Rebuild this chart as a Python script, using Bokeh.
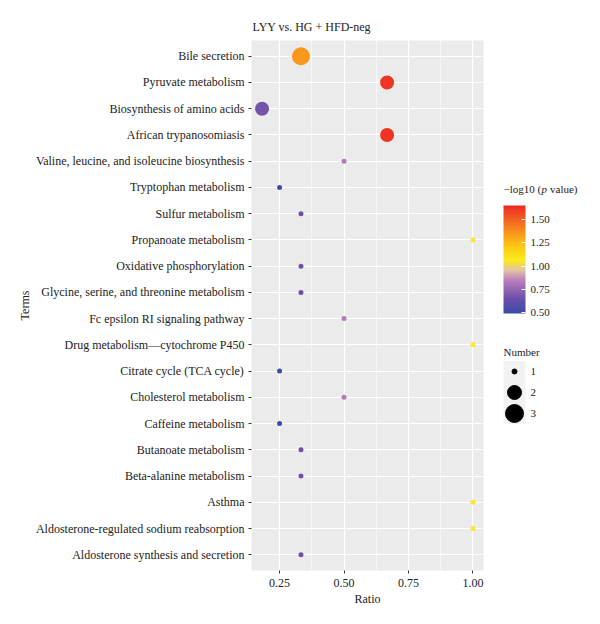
import numpy as np
from bokeh.plotting import figure
from bokeh.models import (ColumnDataSource, FactorRange, Range1d, LinearColorMapper,
                          ColorBar, FixedTicker)
from bokeh.layouts import row
from bokeh.embed import file_html
from bokeh.resources import INLINE
from bokeh.core.properties import value
from bokeh.transform import transform

# ---------------- data (top to bottom as in the chart) ----------------
terms = [
    "Bile secretion",
    "Pyruvate metabolism",
    "Biosynthesis of amino acids",
    "African trypanosomiasis",
    "Valine, leucine, and isoleucine biosynthesis",
    "Tryptophan metabolism",
    "Sulfur metabolism",
    "Propanoate metabolism",
    "Oxidative phosphorylation",
    "Glycine, serine, and threonine metabolism",
    "Fc epsilon RI signaling pathway",
    "Drug metabolism\u2014cytochrome P450",
    "Citrate cycle (TCA cycle)",
    "Cholesterol metabolism",
    "Caffeine metabolism",
    "Butanoate metabolism",
    "Beta-alanine metabolism",
    "Asthma",
    "Aldosterone-regulated sodium reabsorption",
    "Aldosterone synthesis and secretion",
]
ratio = [0.333, 0.667, 0.182, 0.667, 0.5, 0.25, 0.333, 1.0, 0.333, 0.333,
         0.5, 1.0, 0.25, 0.5, 0.25, 0.333, 0.333, 1.0, 1.0, 0.333]
number = [3, 2, 2, 2, 1, 1, 1, 1, 1, 1, 1, 1, 1, 1, 1, 1, 1, 1, 1, 1]
neglogp = [1.35, 1.62, 0.67, 1.62, 0.83, 0.50, 0.65, 1.05, 0.65, 0.65,
           0.83, 1.05, 0.50, 0.83, 0.50, 0.65, 0.65, 1.05, 1.05, 0.65]

x_ticks = [0.25, 0.50, 0.75, 1.00]
x_tick_labels = ["0.25", "0.50", "0.75", "1.00"]
x_minor = [0.375, 0.625, 0.875]
cbar_ticks = [0.50, 0.75, 1.00, 1.25, 1.50]
cbar_tick_labels = ["0.50", "0.75", "1.00", "1.25", "1.50"]
cbar_low, cbar_high = 0.49, 1.65
size_levels = [1, 2, 3]

# ---------------- style ----------------
FONT = "Liberation Serif"
TXT = "#222222"
SIZE_PX = {1: 5, 2: 14, 3: 18}

anchors = [
    (0.00, "#3A4CA6"),
    (0.13, "#6A4EA8"),
    (0.30, "#B77CBE"),
    (0.40, "#E3C2A6"),
    (0.49, "#FCEB1E"),
    (0.62, "#FDC814"),
    (0.75, "#F7941D"),
    (1.00, "#EE2A24"),
]


def hex2rgb(h):
    h = h.lstrip("#")
    return [int(h[i:i + 2], 16) for i in (0, 2, 4)]


pos = np.array([a[0] for a in anchors])
cols = np.array([hex2rgb(a[1]) for a in anchors], dtype=float)
palette = []
for t in np.linspace(0, 1, 256):
    rgb = [int(round(np.interp(t, pos, cols[:, k]))) for k in range(3)]
    palette.append("#%02x%02x%02x" % tuple(rgb))

mapper = LinearColorMapper(palette=palette, low=cbar_low, high=cbar_high)

src = ColumnDataSource(dict(
    term=terms, ratio=ratio, number=number, neglogp=neglogp,
    size=[SIZE_PX[n] for n in number],
))

lo, hi = min(ratio), max(ratio)
pad = 0.05 * (hi - lo)

TOP, BOTTOM = 40, 54

p = figure(
    width=490, height=624, output_backend="svg", toolbar_location=None,
    x_range=Range1d(lo - pad, hi + pad),
    y_range=FactorRange(factors=terms[::-1], range_padding=0.1,
                        range_padding_units="absolute"),
    min_border_left=251, min_border_right=7, min_border_top=TOP, min_border_bottom=BOTTOM,
)
p.background_fill_color = "#EBEBEB"
p.border_fill_color = "white"
p.outline_line_color = None

p.scatter("ratio", "term", source=src, size="size",
          fill_color=transform("neglogp", mapper), line_color=None)

p.xgrid.ticker = FixedTicker(ticks=x_ticks, minor_ticks=x_minor)
p.xgrid.grid_line_color = "white"
p.xgrid.grid_line_width = 1.2
p.xgrid.minor_grid_line_color = "white"
p.xgrid.minor_grid_line_width = 0.6
p.ygrid.grid_line_color = "white"
p.ygrid.grid_line_width = 1.2

p.xaxis.ticker = FixedTicker(ticks=x_ticks)
p.xaxis.major_label_overrides = dict(zip(x_ticks, x_tick_labels))
p.xaxis.axis_label = "Ratio"
p.yaxis.axis_label = "Terms"
for ax in (p.xaxis, p.yaxis):
    ax.axis_line_color = None
    ax.minor_tick_line_color = None
    ax.major_tick_line_color = "#333333"
    ax.major_tick_out = 3
    ax.major_tick_in = 0
    ax.major_label_text_font = FONT
    ax.major_label_text_font_size = "12px"
    ax.major_label_text_color = TXT
    ax.axis_label_text_font = FONT
    ax.axis_label_text_font_size = "12px"
    ax.axis_label_text_font_style = "normal"
    ax.axis_label_text_color = TXT
p.xaxis.major_label_standoff = 5
p.xaxis.axis_label_standoff = 2
p.yaxis.major_label_standoff = 4
p.yaxis.axis_label_standoff = 1

p.title.text = "LYY vs. HG + HFD-neg"
p.title.text_font = FONT
p.title.text_font_size = "12px"
p.title.text_font_style = "normal"
p.title.text_color = TXT
p.title.align = "left"
p.title.offset = 1
p.title.standoff = 14

# ---------------- side legend panel (data coords = page pixels) ----------------
s = figure(width=110, height=624, output_backend="svg", toolbar_location=None,
           x_range=Range1d(490, 600), y_range=Range1d(624 - BOTTOM, TOP),
           x_axis_type=None, y_axis_type=None,
           min_border_left=0, min_border_right=0,
           min_border_top=TOP, min_border_bottom=BOTTOM)
s.outline_line_color = None
s.grid.visible = False
s.background_fill_color = "white"
s.border_fill_color = "white"

LEG_FS = "11px"
# colour bar title with italic p
s.text(x=[503], y=[188], text=["\u2212log10 ("], text_font=value(FONT),
       text_font_size=LEG_FS, text_baseline="middle", text_color=TXT)
s.text(x=[541], y=[188], text=["p"], text_font=value(FONT), text_font_style="italic",
       text_font_size=LEG_FS, text_baseline="middle", text_color=TXT)
s.text(x=[549.5], y=[188], text=["value)"], text_font=value(FONT),
       text_font_size=LEG_FS, text_baseline="middle", text_color=TXT)

cb = ColorBar(color_mapper=mapper, ticker=FixedTicker(ticks=cbar_ticks),
              major_label_overrides=dict(zip(cbar_ticks, cbar_tick_labels)),
              width=22, height=108, location=(13, (624 - BOTTOM) - 313), padding=0,
              background_fill_alpha=0, bar_line_color=None,
              major_tick_line_color="white", major_tick_in=4, major_tick_out=0,
              minor_tick_line_color=None,
              major_label_text_font=FONT, major_label_text_font_size=LEG_FS,
              major_label_text_color=TXT, label_standoff=5)
s.add_layout(cb, "center")

# size legend
s.text(x=[503], y=[351], text=["Number"], text_font=value(FONT),
       text_font_size=LEG_FS, text_baseline="middle", text_color=TXT)
key_y = [371 + 21 * i for i in range(len(size_levels))]
s.rect(x=[514] * len(size_levels), y=key_y, width=22, height=21,
       fill_color="#F2F2F2", line_color=None)
s.scatter(x=[514] * len(size_levels), y=key_y, size=[SIZE_PX[n] for n in size_levels],
          color="black")
s.text(x=[530] * len(size_levels), y=key_y, text=[str(n) for n in size_levels],
       text_font=value(FONT), text_font_size=LEG_FS, text_baseline="middle",
       text_color=TXT)

layout = row(p, s)
open("out.html", "w").write(file_html(layout, INLINE))
